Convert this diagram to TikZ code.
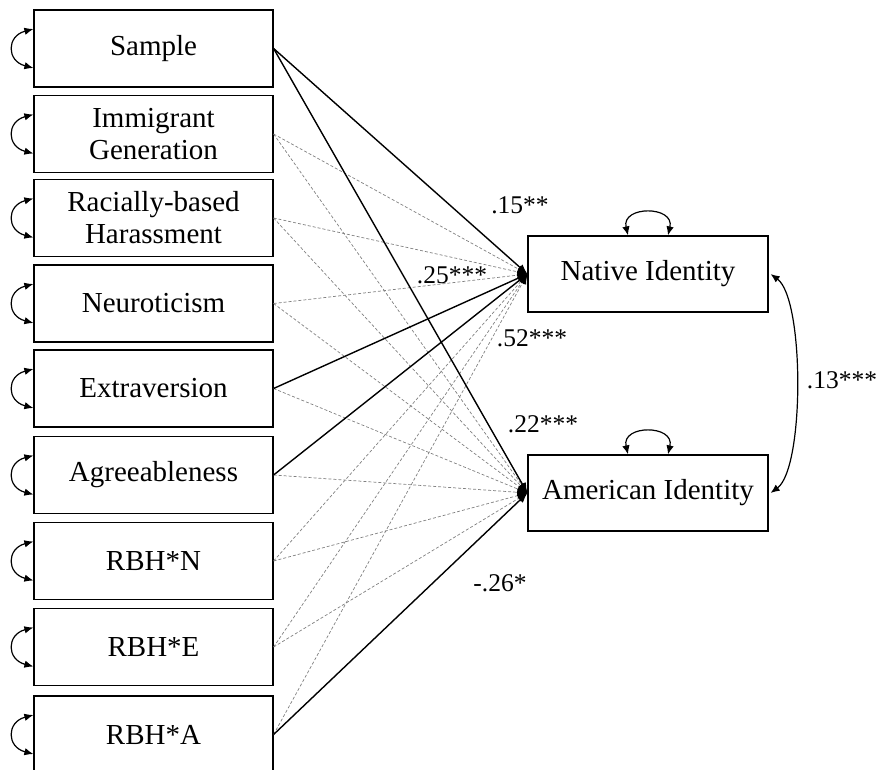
\documentclass[tikz,border=0pt]{standalone}
\usepackage{fontspec}
\setmainfont{Liberation Serif}
\usetikzlibrary{arrows.meta}

\newcommand*\boxwidth{239pt}
\newcommand*\boxheight{77pt}
\tikzset{
    var/.style={
        draw,
        line width=1.2pt,
        rectangle,
        minimum width=\boxwidth,
        minimum height=\boxheight,
        inner sep=0pt,
        align=center,
        font=\fontsize{29}{32}\selectfont
    },
    est/.style={font=\fontsize{25.5}{28}\selectfont, inner sep=0pt},
    sig/.style={line width=1.4pt, -{Latex[length=10pt,width=8pt]}},
    ns/.style={line width=0.7pt, gray, dash pattern=on 3pt off 2pt,
        -{Latex[length=10pt,width=8pt,color=black]}},
    cov/.style={line width=1.2pt,
        {Latex[length=9pt,width=7.5pt]}-{Latex[length=9pt,width=7.5pt]}}
}

\begin{document}
\begin{tikzpicture}[x=1pt,y=-1pt]
    \useasboundingbox (0,0) rectangle (880,770);

    % Predictors down the left side.
    \foreach \name/\ypos/\txt in {sam/48.5/Sample, gen/134/{Immigrant\\Generation},
        rbh/218/{Racially-based\\Harassment}, neu/303.5/Neuroticism,
        ext/388.5/Extraversion, agr/475/Agreeableness, rbhn/561/RBH*N,
        rbhe/647/RBH*E, rbha/734.5/RBH*A}
        \node[var] (\name) at (153.5,\ypos) {\txt};

    % Outcomes.
    \node[var, minimum width=240pt, minimum height=76pt] (nat) at (648,274) {Native Identity};
    \node[var, minimum width=240pt, minimum height=76pt] (ame) at (648,493) {American Identity};

    % Non-significant paths first.
    \foreach \v in {gen,rbh,neu,rbhn,rbhe,rbha}
        \draw[ns] (\v.east) -- (nat.west);
    \foreach \v in {gen,rbh,neu,ext,agr,rbhn,rbhe}
        \draw[ns] (\v.east) -- (ame.west);

    % Significant paths.
    \draw[sig] (sam.east) -- (nat.west);
    \draw[sig] (ext.east) -- (nat.west);
    \draw[sig] (agr.east) -- (nat.west);
    \draw[sig] (sam.east) -- (ame.west);
    \draw[sig] (rbha.east) -- (ame.west);

    % Variances and covariances.
    \foreach \v in {sam,gen,rbh,neu,ext,agr,rbhn,rbhe,rbha}
        \draw[cov] ([yshift=19.5pt]\v.west) .. controls +(-27,7) and +(-27,-7) .. ([yshift=-19.5pt]\v.west);
    \draw[cov] ([xshift=-20pt]nat.north) .. controls +(-7,-30) and +(7,-30) .. ([xshift=20pt]nat.north);
    \draw[cov] ([xshift=-20pt]ame.north) .. controls +(-7,-30) and +(7,-30) .. ([xshift=20pt]ame.north);
    \draw[cov] ([xshift=2pt]nat.east) .. controls +(34,25) and +(34,-25) .. ([xshift=2pt]ame.east);

    % Estimates.
    \node[est] (lsamnat) at (520,205) {.15**};
    \node[est] (lextnat) at (452,275) {.25***};
    \node[est] (lagrnat) at (532,338) {.52***};
    \node[est] (lsamame) at (543,424) {.22***};
    \node[est] (lrbhaame) at (500,583) {-.26*};
    \node[est] (lnatame) at (842,380) {.13***};

\end{tikzpicture}
\end{document}
